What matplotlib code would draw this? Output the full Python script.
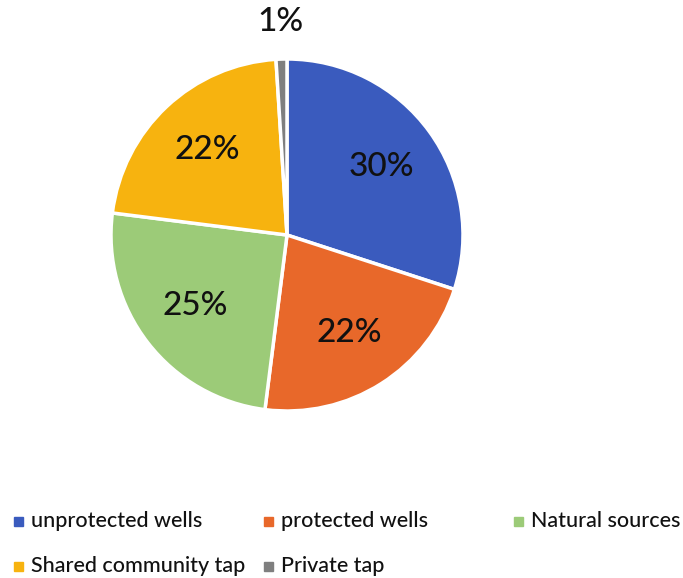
import matplotlib
matplotlib.use("Agg")
import numpy as np
import matplotlib.pyplot as plt
from matplotlib.patches import Rectangle

plt.rcParams["font.family"] = ["Lato", "DejaVu Sans"]

sources = ["unprotected wells", "protected wells", "Natural sources",
           "Shared community tap", "Private tap"]
shares = [30, 22, 25, 22, 1]
colors = ["#3A5BBE", "#E8682A", "#9CCB78", "#F7B30F", "#7F7F7F"]

W, H = 683, 578
fig = plt.figure(figsize=(W / 100, H / 100), dpi=100)

# pie axes: centre (287, 235) px, radius 176 px
cx, cy, r = 287, 235, 176
ax = fig.add_axes([(cx - r) / W, (H - cy - r) / H, 2 * r / W, 2 * r / H])
wedges, _ = ax.pie(shares, colors=colors, startangle=90, counterclock=False,
                   wedgeprops=dict(edgecolor="white", linewidth=2.5))
ax.set_xlim(-1, 1)
ax.set_ylim(-1, 1)
ax.set_aspect("equal")
ax.axis("off")

# percentage labels inside the big slices, outside the tiny one
for w, v in zip(wedges, shares):
    mid = np.deg2rad((w.theta1 + w.theta2) / 2)
    dist = 0.66 if v > 5 else 1.21
    ax.text(dist * np.cos(mid), dist * np.sin(mid), f"{v}%",
            ha="center", va="center", fontsize=24, fontweight="medium",
            color="#111111", clip_on=False)

# legend laid out on a 3-column grid
col_x = [18, 268, 518]
row_y = [521, 566]
for i, (name, c) in enumerate(zip(sources, colors)):
    x = col_x[i % 3]
    y = row_y[i // 3]
    s = 9
    fig.patches.append(Rectangle(((x - s / 2) / W, (H - y - s / 2) / H), s / W, s / H,
                                 transform=fig.transFigure, color=c))
    fig.text((x + 13) / W, (H - y) / H, name, ha="left", va="center",
             fontsize=15.5, fontweight="medium", color="#111111")

fig.savefig("out.png", dpi=100)
